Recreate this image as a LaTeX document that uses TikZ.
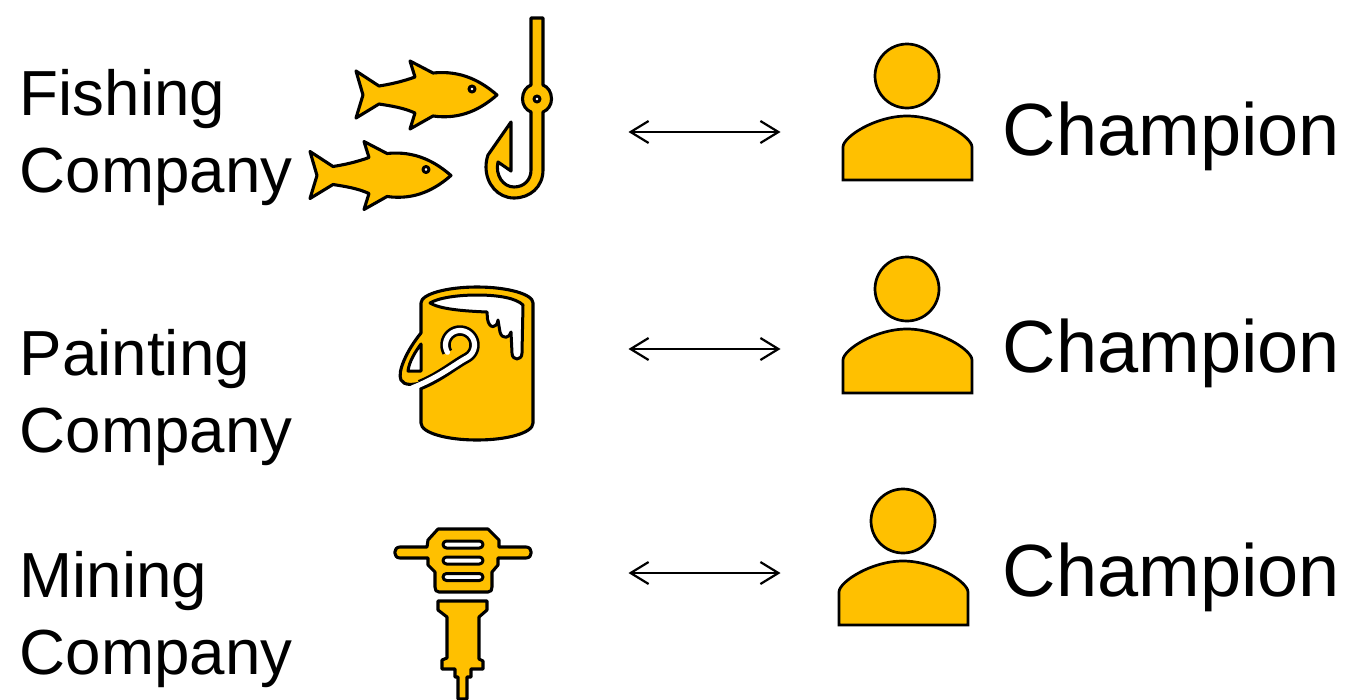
\documentclass[tikz,border=0pt]{standalone}
\usepackage{fontspec}
\setmainfont{Liberation Sans}
\usetikzlibrary{arrows.meta}
\definecolor{gold}{HTML}{FFC000}
\tikzset{
  icon/.style={fill=gold,draw=black,line width=3.1pt,line join=round},
  man/.style={fill=gold,draw=black,line width=2.7pt,line join=miter},
  holew/.style={fill=white,draw=black,line width=3pt,line join=round},
  link/.style={draw=black,line width=2pt,{Straight Barb[length=18pt,width=22pt,line width=2.2pt]}-{Straight Barb[length=18pt,width=22pt,line width=2.2pt]}},
  small/.style={anchor=base west,inner sep=0pt,font=\fontsize{63.7}{70}\selectfont},
  big/.style={anchor=base west,inner sep=0pt,font=\fontsize{74}{80}\selectfont},
}
\newcommand{\fishicon}[2]{%
\begin{scope}[shift={(#1,#2)}]
\path[icon] (356,71)--(379,86).. controls (392,84) and (404,81) .. (415,77)--(410,61)--(433,73)
 .. controls (462,70) and (482,82) .. (497,95)
 .. controls (482,108) and (462,120) .. (433,116)--(410,129)--(415,113)
 .. controls (404,108) and (392,106) .. (379,104)--(356,118)--(363,95)--cycle;
\path[holew] (472,89) circle[radius=3];
\end{scope}}
\newcommand{\personicon}[2]{%
\begin{scope}[shift={(#1,#2)}]
\path[man] (907,76) circle[radius=32];
\path[man] (843,180)--(843,147).. controls (843,137) and (875,116) .. (907,116)
 .. controls (939,116) and (972,137) .. (972,147)--(972,180)--cycle;
\end{scope}}
\begin{document}
\begin{tikzpicture}[x=1pt,y=-1pt]
\useasboundingbox (0,0) rectangle (1346,699);
% labels
\node[small] (f1) at (19.5,115) {Fishing};
\node[small] (f2) at (19.5,192) {Company};
\node[small] (p1) at (19.5,375) {Painting};
\node[small] (p2) at (19.5,452) {Company};
\node[small] (m1) at (19.5,597) {Mining};
\node[small] (m2) at (19.5,674) {Company};
\node[big] (c1) at (1002.5,155) {Champion};
\node[big] (c2) at (1002.5,372) {Champion};
\node[big] (c3) at (1002.5,596) {Champion};
% arrows
\coordinate (a1) at (628.5,132); \coordinate (b1) at (780.5,132);
\coordinate (a2) at (628.5,349); \coordinate (b2) at (780.5,349);
\coordinate (a3) at (628.5,573); \coordinate (b3) at (780.5,573);
\draw[link] (a1)--(b1);
\draw[link] (a2)--(b2);
\draw[link] (a3)--(b3);
% fish
\fishicon{0}{0}
\fishicon{-46}{80.5}
% hook
\path[icon] (531,18)--(543,18)--(543,85)
 .. controls (548,87) and (551.5,92) .. (551.5,99)
 .. controls (551.5,105) and (548,110) .. (543,112)
 --(543,170) .. controls (543,187) and (530,198) .. (514,198)
 .. controls (498,198) and (486,184) .. (486,167)
 .. controls (486,162) and (487,158) .. (488,155)--(511,122)--(511,171)--(498,162)
 .. controls (495,175) and (503,187) .. (514,187)
 .. controls (524,187) and (531,180) .. (531,170)
 --(531,112) .. controls (526,110) and (522.5,105) .. (522.5,99)
 .. controls (522.5,92) and (526,87) .. (531,85)--cycle;
\path[holew] (537,99) circle[radius=3];
% bucket
\path[icon] (421,333)--(421,303) .. controls (421,294) and (447,287) .. (477,287)
 .. controls (507,287) and (533,294) .. (533,303)
 --(533,423) .. controls (533,433) and (507,440) .. (477,440)
 .. controls (447,440) and (421,433) .. (421,423)--(421,388)--(424,382)
 .. controls (414,385) and (404,386) .. (401,380)
 .. controls (397,372) and (407,350) .. (421,333)--cycle;
\path[holew] (421,344)--(421,371)--(408,371) .. controls (409,362) and (415,352) .. (421,344)--cycle;
\path[holew] (430,303) .. controls (438,298) and (457,295) .. (477,295)
 .. controls (498,295) and (516,298) .. (523,305)
 --(522,353) .. controls (522,361) and (512,361) .. (512,353)
 --(511,332) .. controls (510,338) and (502,340) .. (500,332)
 --(498,320) .. controls (497,329) and (489,329) .. (487.5,319)
 --(487,312) .. controls (462,311) and (440,309) .. (430,303)--cycle;
\path[draw=black,line width=10.5pt,line join=round] plot[domain=150:420,samples=40] ({460+14.5*cos(\x)},{345+14.5*sin(\x)}) .. controls (455,364) and (440,377) .. (420,385);
\path[draw=white,line width=5.2pt,line join=round,line cap=round] plot[domain=150:420,samples=40] ({460+14.5*cos(\x)},{345+14.5*sin(\x)}) .. controls (455,364) and (440,377) .. (412,388);
% drill
\path[icon] (438,529)--(488,529)--(499,540)--(499,547)--(526,547)
 .. controls (533,547) and (533,558) .. (526,558)--(498,558)--(498,565)--(492,572)--(492,587)
 .. controls (492,590) and (491,592) .. (488,592)--(439,592)
 .. controls (436,592) and (435,590) .. (435,587)--(435,572)--(428,565)--(428,558)--(400,558)
 .. controls (393,558) and (393,547) .. (400,547)--(427,547)--(428,540)--cycle;
\foreach \yy in {544.5,560.5,577}{
 \path[holew,rounded corners=3.5pt] (443,\yy-3.5) rectangle (483,\yy+3.5);
}
\path[icon] (438,601)--(487,601)--(487,610)--(479,617)--(479,659)--(483,661)--(483,669)--(471,669)--(471,677)--(467,677)--(467,699)--(458,699)--(458,677)--(455,677)--(455,669)--(442,669)--(442,660)--(447,658)--(447,617)--(438,610)--cycle;
% persons
\personicon{0}{0}
\personicon{0}{213}
\personicon{-4}{445}
\end{tikzpicture}
\end{document}
